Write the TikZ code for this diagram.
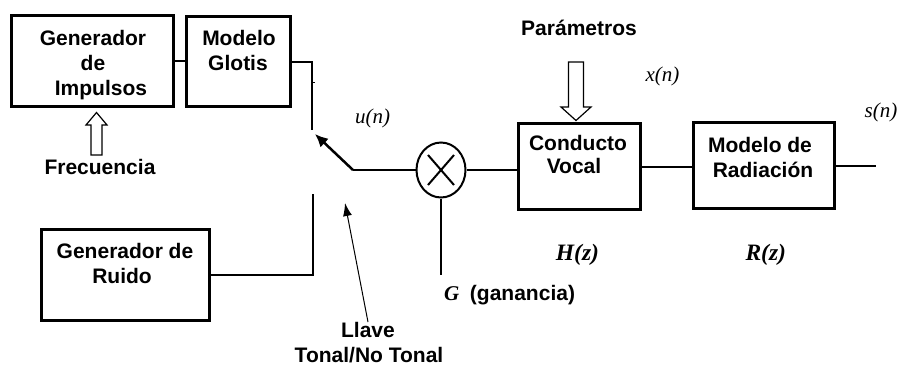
\documentclass[tikz,border=0pt]{standalone}
\usepackage{fontspec}
\setmainfont{Liberation Sans}
\newfontfamily\serifit{Liberation Serif}
\usetikzlibrary{arrows.meta,shapes.geometric,calc}
\begin{document}
\begin{tikzpicture}[x=1pt,y=-1pt,
 box/.style={draw,line width=3pt,inner sep=0pt},
 wire/.style={line width=2pt},
 lbl/.style={font=\fontsize{21}{25}\selectfont\bfseries, inner sep=0pt, anchor=base},
 sig/.style={font=\fontsize{21}{25}\selectfont\serifit\itshape, inner sep=0pt, anchor=base},
 tf/.style={font=\fontsize{23.5}{28}\selectfont\serifit\bfseries\itshape, inner sep=0pt, anchor=base},
 hollow/.style={draw,line width=1.2pt,fill=white,line join=miter}]
\path[use as bounding box] (0,0) rectangle (898,365);

% boxes
\node[box, minimum width=162pt, minimum height=91pt] (gi) at (92.5,61) {};
\node[box, minimum width=104pt, minimum height=90pt] (mg) at (238.5,61.5) {};
\node[box, minimum width=168pt, minimum height=91pt] (gr) at (125.5,275) {};
\node[box, minimum width=122pt, minimum height=86pt] (cv) at (579.5,166.5) {};
\node[box, minimum width=141pt, minimum height=86pt] (mr) at (764,165.5) {};
\node[draw, ellipse, line width=2pt, minimum width=49pt, minimum height=55pt, inner sep=0pt] (mul) at (441,170) {};

% box texts
\node[lbl] (gi1) at (93,45) {Generador};
\node[lbl] (gi2) at (93,70) {de};
\node[lbl] (gi3) at (101,95) {Impulsos};
\node[lbl] (mg1) at (239,45) {Modelo};
\node[lbl] (mg2) at (238,70) {Glotis};
\node[lbl] (gr1) at (125,258) {Generador de};
\node[lbl] (gr2) at (122,283) {Ruido};
\node[lbl] (cv1) at (578,150) {Conducto};
\node[lbl] (cv2) at (574,173) {Vocal};
\node[lbl] (mr1) at (760,152) {Modelo de};
\node[lbl] (mr2) at (763,177) {Radiación};

% other labels
\node[lbl] (frec) at (100,174) {Frecuencia};
\node[lbl] (par) at (579,35) {Parámetros};
\node[lbl] (llave1) at (368,337) {Llave};
\node[lbl] (llave2) at (369,362) {Tonal/No Tonal};
\node[lbl] (gan) at (522.5,300) {(ganancia)};
\node[tf, font=\fontsize{21}{25}\selectfont\serifit\bfseries\itshape] (g) at (451.7,300) {G};
\node[sig] (un) at (372.5,123) {u(n)};
\node[sig] (xn) at (662.5,81) {x(n)};
\node[sig] (sn) at (881,117) {s(n)};
\node[tf] (hz) at (577.5,260) {H(z)};
\node[tf] (rz) at (765.8,260) {R(z)};

% coordinates
\coordinate (swa) at (312,130);
\coordinate (swb) at (313,194);
\coordinate (swp) at (353,170);
\coordinate (swt) at (315,134);
\coordinate (llt) at (345,203);
\coordinate (llb) at (368,322);
\coordinate (gend) at (441,275);
\coordinate (sout) at (876,163);

% wires
\draw[wire] (gi.east) -- (gi.east -| mg.west);
\draw[wire] (mg.east) -| (swa);
\draw[line width=1pt] (312,82) -- (315,82);
\draw[wire] (gr.east) -| (swb);
\draw[line width=2.5pt, -{Latex[length=13pt,width=12pt]}] (swp) -- (swt);
\draw[wire] (swp) -- (mul.west);
\draw[wire] ($(mul.center)+(-13,-15)$) -- ($(mul.center)+(13,15)$);
\draw[wire] ($(mul.center)+(-13,15)$) -- ($(mul.center)+(13,-15)$);
\draw[wire] (mul.south) -- (gend);
\draw[wire] (mul.east) -- (mul.east -| cv.west);
\draw[wire] (cv.east) -- (cv.east -| mr.west);
\draw[wire] (mr.east) -- (mr.east -| sout);
\draw[line width=1pt, -{Latex[length=13pt,width=9pt]}] (llb) -- (llt);

% hollow arrows
\draw[hollow] (568.5,62) -- (583.5,62) -- (583.5,107) -- (591,107) -- (576,120.5) -- (561,107) -- (568.5,107) -- cycle;
\draw[hollow] (91,155) -- (102,155) -- (102,125) -- (107,125) -- (96.5,112.5) -- (86,125) -- (91,125) -- cycle;
\end{tikzpicture}
\end{document}
